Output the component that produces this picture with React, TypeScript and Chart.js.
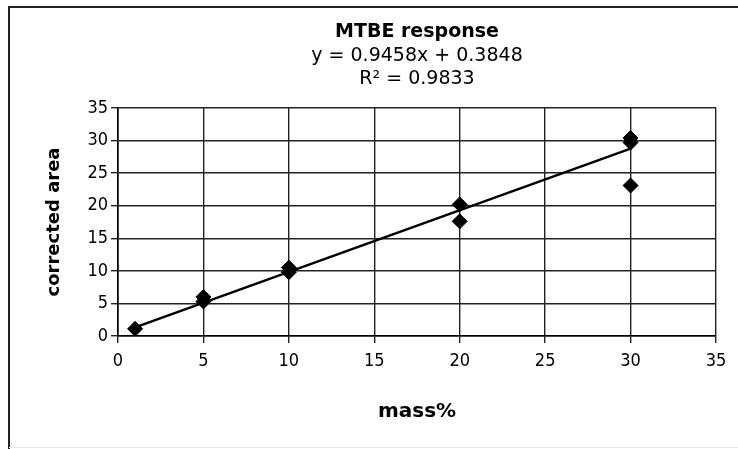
import React, { useEffect, useRef } from "react";
import { Chart, registerables, Title, SubTitle } from "chart.js";

Chart.register(...registerables);

const massX = [1, 5, 5, 10, 10, 20, 20, 30, 30, 30];
const areaY = [1.1, 5.3, 6.0, 9.8, 10.5, 20.2, 17.6, 30.4, 29.7, 23.1];
const trendX = [1, 30];
const trendY = [1.33, 28.76];
const titleText = "MTBE response";
const equationLines = ["y = 0.9458x + 0.3848", "R² = 0.9833"];
const xTitle = "mass%";
const yTitle = "corrected area";

const TICK_FONT = "'DejaVu Sans Condensed', 'DejaVu Sans', sans-serif";
const FONT = "'DejaVu Sans', sans-serif";

const framePlugin = {
  id: "frame",
  afterLayout(chart: any) {
    const TitleEl = (Title as any)._element;
    const SubEl = (SubTitle as any)._element;
    const area = chart.chartArea;
    chart.boxes.forEach((b: any) => {
      if ((TitleEl && b instanceof TitleEl) || (SubEl && b instanceof SubEl)) {
        b.left = area.left;
        b.right = area.right;
      }
    });
  },
  beforeDraw(chart: any) {
    const ctx = chart.ctx;
    ctx.save();
    ctx.fillStyle = "#fff";
    ctx.fillRect(0, 0, chart.width, chart.height);
    ctx.strokeStyle = "#222";
    ctx.lineWidth = 2;
    ctx.beginPath();
    ctx.moveTo(9, chart.height);
    ctx.lineTo(9, 7);
    ctx.lineTo(chart.width, 7);
    ctx.stroke();
    ctx.strokeStyle = "#e6e6e6";
    ctx.lineWidth = 1;
    ctx.beginPath();
    ctx.moveTo(9, 447.5);
    ctx.lineTo(chart.width, 447.5);
    ctx.stroke();
    ctx.restore();
  },
};

export default function App() {
  const ref = useRef<HTMLCanvasElement>(null);
  useEffect(() => {
    document.body.style.margin = "0";
    const points = massX.map((x, i) => ({ x, y: areaY[i] }));
    const trend = trendX.map((x, i) => ({ x, y: trendY[i] }));
    const chart = new Chart(ref.current!, {
      type: "scatter",
      data: {
        datasets: [
          {
            type: "line",
            data: trend,
            borderColor: "#000",
            borderWidth: 2.5,
            pointRadius: 0,
            showLine: true,
            order: 2,
          } as any,
          {
            data: points,
            backgroundColor: "#000",
            borderColor: "#000",
            pointStyle: "rectRot",
            pointRadius: 7.5,
            borderWidth: 1,
            order: 1,
          },
        ],
      },
      options: {
        animation: false,
        responsive: false,
        layout: { padding: { left: 10, right: 22, top: 0, bottom: 0 } },
        plugins: {
          legend: { display: false },
          tooltip: { enabled: false },
          title: {
            display: true,
            text: titleText,
            color: "#000",
            font: { family: FONT, size: 19, weight: "bold", lineHeight: 1.2 },
            padding: { top: 21, bottom: 0 },
          },
          subtitle: {
            display: true,
            text: equationLines,
            color: "#000",
            font: { family: FONT, size: 19, lineHeight: 1.2 },
            padding: { top: 1, bottom: 17.6 },
          },
        },
        scales: {
          x: {
            type: "linear",
            min: 0,
            max: 35,
            ticks: { stepSize: 5, color: "#000", font: { family: TICK_FONT, size: 18 }, padding: 8, maxRotation: 0 },
            grid: { color: "#222", lineWidth: 1.4, tickLength: 7, drawTicks: true },
            border: { color: "#000", width: 1.6 },
            title: {
              display: true,
              text: xTitle,
              color: "#000",
              font: { family: FONT, size: 20, weight: "bold", lineHeight: 1.2 },
              padding: { top: 0, bottom: 25 },
            },
            afterFit(scale: any) {
              scale.height = 113;
            },
          },
          y: {
            type: "linear",
            min: 0,
            max: 35,
            ticks: { stepSize: 5, color: "#000", font: { family: TICK_FONT, size: 18 }, padding: 3 },
            grid: { color: "#222", lineWidth: 1.4, tickLength: 7, drawTicks: true },
            border: { color: "#000", width: 1.6 },
            title: {
              display: true,
              text: yTitle,
              color: "#000",
              font: { family: FONT, size: 18, weight: "bold", lineHeight: 1.2 },
              padding: { top: 34, bottom: 0 },
            },
            afterFit(scale: any) {
              scale.width = 108;
            },
          },
        },
      },
      plugins: [framePlugin],
    });
    return () => chart.destroy();
  }, []);
  return <canvas ref={ref} width={738} height={449} style={{ display: "block" }} />;
}
